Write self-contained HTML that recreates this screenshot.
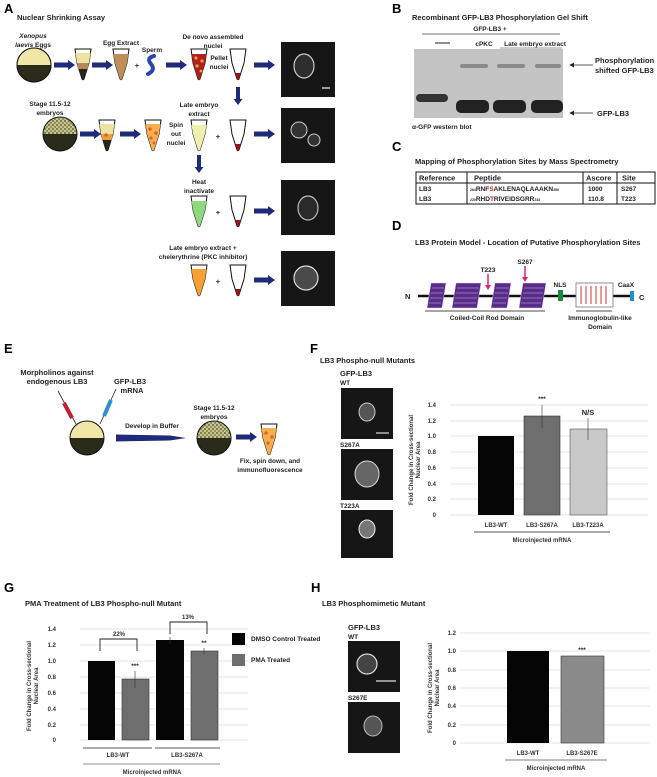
<!DOCTYPE html>
<html><head><meta charset="utf-8"><style>
html,body{margin:0;padding:0;background:#fff;}
svg{display:block;font-family:"Liberation Sans",Arial,sans-serif;}
.l{font-size:13px;font-weight:bold;}
.t{font-size:7.5px;font-weight:bold;fill:#222;}
.s{font-size:6.5px;font-weight:bold;fill:#222;}
.ax{font-size:6px;font-weight:bold;fill:#333;}
.g{stroke:#ddd;stroke-width:0.7;}
</style></head><body>
<svg width="657" height="777" viewBox="0 0 657 777">
<defs>
<marker id="ah" markerWidth="6" markerHeight="6" refX="5" refY="3" orient="auto"><path d="M0,0 L6,3 L0,6 z" fill="#222"/></marker>
<g id="tube"><path d="M-8,0 L-6,14 L-1,30 Q0,31.5 1,30 L6,14 L8,0 Z" fill="#fff" stroke="#111" stroke-width="1"/></g>
<g id="arr"><path d="M0,-2.5 L14,-2.5 L14,-5 L21,0 L14,5 L14,2.5 L0,2.5 Z" fill="#1f2a78"/></g>
<g id="darr"><path d="M-2,0 L-2,12 L-4.5,12 L0,18 L4.5,12 L2,12 L2,0 Z" fill="#1f2a78"/></g>
<g id="pel"><use href="#tube"/><path d="M-2.5,24 L-1,30 Q0,31.5 1,30 L2.5,24 Z" fill="#a01020"/></g>
<pattern id="spk" width="4" height="4" patternUnits="userSpaceOnUse"><rect width="4" height="4" fill="#c8c48a"/><circle cx="1" cy="1" r="0.9" fill="#4a4a30"/><circle cx="3" cy="3" r="0.9" fill="#6a6840"/></pattern>
</defs>

<!-- Panel A -->
<text x="4" y="13" class="l">A</text>
<text x="17" y="20" class="t">Nuclear Shrinking Assay</text>
<text x="33" y="38" class="s" text-anchor="middle" font-style="italic">Xenopus</text>
<text x="33" y="47" class="s" text-anchor="middle"><tspan font-style="italic">laevis</tspan> Eggs</text>
<circle cx="34" cy="65" r="17" fill="#2b2b1c" stroke="#111"/>
<path d="M17,65 A17,17 0 0 1 51,65 Z" fill="#efe6a8"/>
<circle cx="34" cy="65" r="17" fill="none" stroke="#111"/>
<use href="#arr" x="54" y="65"/><use href="#arr" x="92" y="65"/><use href="#arr" x="166" y="65"/><use href="#arr" x="254" y="65"/>
<g transform="translate(83,49)"><use href="#tube"/><path d="M-7.5,4 L-6,14 L6,14 L7.5,4Z" fill="#ece3a0"/><path d="M-6,14 L-4.5,20 L4.5,20 L6,14Z" fill="#b88a58"/><path d="M-4.5,20 L-1,30 Q0,31.5 1,30 L4.5,20Z" fill="#2a2418"/></g>
<text x="121" y="45" class="s" text-anchor="middle">Egg Extract</text>
<g transform="translate(121,49)"><use href="#tube"/><path d="M-7.5,5 L-6,14 L-1,30 Q0,31.5 1,30 L6,14 L7.5,5Z" fill="#bf8c5c"/></g>
<text x="137" y="68" class="t" text-anchor="middle">+</text>
<text x="152" y="52" class="s" text-anchor="middle">Sperm</text>
<path d="M154,56 Q146,58 151,64 Q156,70 148,74" fill="none" stroke="#2b45b0" stroke-width="4" stroke-linecap="round"/>
<text x="213" y="39" class="s" text-anchor="middle">De novo assembled</text>
<text x="213" y="48" class="s" text-anchor="middle">nuclei</text>
<g transform="translate(199,49)"><use href="#tube"/><path d="M-7.5,5 L-6,14 L-1,30 Q0,31.5 1,30 L6,14 L7.5,5Z" fill="#b02020"/><circle cx="-3" cy="9" r="1.6" fill="#e8a040"/><circle cx="3" cy="12" r="1.6" fill="#e8a040"/><circle cx="-2" cy="17" r="1.6" fill="#e8a040"/><circle cx="2" cy="22" r="1.4" fill="#e8a040"/></g>
<text x="219" y="60" class="s" text-anchor="middle">Pellet</text>
<text x="219" y="69" class="s" text-anchor="middle">nuclei</text>
<g transform="translate(238,49)"><use href="#pel"/></g>
<use href="#darr" x="238" y="87"/>

<text x="50" y="106" class="s" text-anchor="middle">Stage 11.5-12</text>
<text x="50" y="115" class="s" text-anchor="middle">embryos</text>
<circle cx="60" cy="134" r="17" fill="#2b2b1c"/>
<path d="M43,134 A17,17 0 0 1 77,134 Z" fill="url(#spk)"/>
<circle cx="60" cy="134" r="17" fill="none" stroke="#111"/>
<use href="#arr" x="80" y="134"/><use href="#arr" x="120" y="134"/><use href="#arr" x="254" y="134"/>
<g transform="translate(107,120)"><use href="#tube"/><path d="M-7.5,4 L-6,14 L6,14 L7.5,4Z" fill="#ece3a0"/><path d="M-6,14 L-4.5,20 L4.5,20 L6,14Z" fill="#e8a040"/><circle cx="-1" cy="15" r="1.8" fill="#e86020"/><path d="M-4.5,20 L-1,30 Q0,31.5 1,30 L4.5,20Z" fill="#2a2418"/></g>
<g transform="translate(153,120)"><use href="#tube"/><path d="M-7.5,4 L-6,14 L-1,30 Q0,31.5 1,30 L6,14 L7.5,4Z" fill="#f4b050"/><circle cx="-3" cy="9" r="1.8" fill="#e86020"/><circle cx="3" cy="13" r="1.8" fill="#e86020"/><circle cx="-2" cy="18" r="1.6" fill="#e86020"/><circle cx="1" cy="23" r="1.4" fill="#e86020"/></g>
<text x="176" y="127" class="s" text-anchor="middle">Spin</text>
<text x="176" y="136" class="s" text-anchor="middle">out</text>
<text x="176" y="145" class="s" text-anchor="middle">nuclei</text>
<text x="199" y="107" class="s" text-anchor="middle">Late embryo</text>
<text x="199" y="116" class="s" text-anchor="middle">extract</text>
<g transform="translate(199,120)"><use href="#tube"/><path d="M-7.5,5 L-6,14 L-1,30 Q0,31.5 1,30 L6,14 L7.5,5Z" fill="#eef0b0"/></g>
<text x="218" y="139" class="t" text-anchor="middle">+</text>
<g transform="translate(238,120)"><use href="#pel"/></g>
<use href="#darr" x="199" y="155"/>

<text x="199" y="184" class="s" text-anchor="middle">Heat</text>
<text x="199" y="193" class="s" text-anchor="middle">inactivate</text>
<g transform="translate(199,196)"><use href="#tube"/><path d="M-7.5,5 L-6,14 L-1,30 Q0,31.5 1,30 L6,14 L7.5,5Z" fill="#8ed880"/></g>
<text x="218" y="215" class="t" text-anchor="middle">+</text>
<g transform="translate(238,196)"><use href="#pel"/></g>
<use href="#arr" x="254" y="211"/>

<text x="203" y="250" class="s" text-anchor="middle">Late embryo extract +</text>
<text x="203" y="259" class="s" text-anchor="middle">chelerythrine (PKC inhibitor)</text>
<g transform="translate(199,265)"><use href="#tube"/><path d="M-7.5,4 L-6,14 L-1,30 Q0,31.5 1,30 L6,14 L7.5,4Z" fill="#f5a030"/></g>
<text x="218" y="284" class="t" text-anchor="middle">+</text>
<g transform="translate(238,265)"><use href="#pel"/></g>
<use href="#arr" x="254" y="280"/>

<rect x="281" y="42" width="54" height="55" fill="#161616"/>
<ellipse cx="304" cy="66" rx="10" ry="12" fill="#2e2e2e" stroke="#ccc" stroke-width="1.2"/>
<line x1="322" y1="88" x2="330" y2="88" stroke="#ccc" stroke-width="1.5"/>
<rect x="281" y="108" width="54" height="55" fill="#161616"/>
<ellipse cx="299" cy="130" rx="8" ry="8" fill="#333" stroke="#ccc"/>
<ellipse cx="314" cy="140" rx="6" ry="6" fill="#333" stroke="#ccc"/>
<rect x="281" y="180" width="54" height="55" fill="#161616"/>
<ellipse cx="308" cy="208" rx="10" ry="12" fill="#2a2a2a" stroke="#bbb" stroke-width="1.2"/>
<rect x="281" y="251" width="54" height="55" fill="#161616"/>
<ellipse cx="306" cy="278" rx="12" ry="12" fill="#4a4a4a" stroke="#ddd" stroke-width="1.2"/>

<!-- Panel B -->
<text x="392" y="13" class="l">B</text>
<text x="412" y="20" class="t">Recombinant GFP-LB3 Phosphorylation Gel Shift</text>
<text x="490" y="31" class="s" text-anchor="middle">GFP-LB3 +</text>
<line x1="422" y1="34" x2="560" y2="34" stroke="#444" stroke-width="0.7"/>
<line x1="435" y1="43" x2="450" y2="43" stroke="#222" stroke-width="1"/>
<text x="484" y="46" class="s" text-anchor="middle">cPKC</text>
<text x="535" y="46" class="s" text-anchor="middle">Late embryo extract</text>
<line x1="500" y1="48" x2="562" y2="48" stroke="#777" stroke-width="0.8"/>
<rect x="414" y="49" width="149" height="69" fill="#c4c4c4"/>
<rect x="416" y="94" width="32" height="8" rx="4" fill="#333"/>
<rect x="456" y="100" width="33" height="13" rx="5" fill="#222"/>
<rect x="493" y="100" width="33" height="13" rx="5" fill="#222"/>
<rect x="531" y="100" width="32" height="13" rx="5" fill="#222"/>
<rect x="460" y="64" width="28" height="4" rx="2" fill="#8a8a8a"/>
<rect x="497" y="64" width="28" height="4" rx="2" fill="#8a8a8a"/>
<rect x="535" y="64" width="26" height="4" rx="2" fill="#8a8a8a"/>
<line x1="593" y1="65" x2="570" y2="65" stroke="#222" stroke-width="0.8" marker-end="url(#ah)"/>
<line x1="593" y1="113" x2="570" y2="113" stroke="#222" stroke-width="0.8" marker-end="url(#ah)"/>
<text x="595" y="63" class="t">Phosphorylation</text>
<text x="595" y="73" class="t">shifted GFP-LB3</text>
<text x="597" y="116" class="t">GFP-LB3</text>
<text x="412" y="129" class="s">α-GFP western blot</text>

<!-- Panel C -->
<text x="392" y="151" class="l">C</text>
<text x="415" y="164" class="t">Mapping of Phosphorylation Sites by Mass Spectrometry</text>
<rect x="416" y="172" width="239" height="32" fill="none" stroke="#111" stroke-width="1"/>
<line x1="416" y1="183" x2="655" y2="183" stroke="#111"/>
<line x1="467" y1="172" x2="467" y2="204" stroke="#111"/>
<line x1="583" y1="172" x2="583" y2="204" stroke="#111"/>
<line x1="617" y1="172" x2="617" y2="204" stroke="#111"/>
<text x="419" y="180.5" class="t">Reference</text><text x="474" y="180.5" class="t">Peptide</text><text x="586" y="180.5" class="t">Ascore</text><text x="622" y="180.5" class="t">Site</text>
<text x="419" y="191" class="s">LB3</text><text x="419" y="201" class="s">LB3</text>
<text x="470" y="191" class="s"><tspan font-size="3.5">264</tspan>RNF<tspan fill="#d02020">S</tspan>AKLENAQLAAAKN<tspan font-size="3.5">280</tspan></text>
<text x="470" y="201" class="s"><tspan font-size="3.5">220</tspan>RHD<tspan fill="#d02020">T</tspan>RIVEIDSGRR<tspan font-size="3.5">233</tspan></text>
<text x="588" y="191" class="s">1000</text><text x="588" y="201" class="s">110.8</text>
<text x="621" y="191" class="s">S267</text><text x="621" y="201" class="s">T223</text>

<!-- Panel D -->
<text x="392" y="230" class="l">D</text>
<text x="415" y="245" class="t">LB3 Protein Model - Location of Putative Phosphorylation Sites</text>
<text x="405" y="299" class="t" font-size="9">N</text>
<line x1="418" y1="296" x2="632" y2="296" stroke="#111" stroke-width="2.5"/>
<g fill="#5a2c8a" stroke="#d8c8f0" stroke-width="0.5">
<path d="M431,283 L446,283 L442,308 L427,308 Z"/>
<path d="M456,283 L481,283 L477,308 L452,308 Z"/>
<path d="M495,283 L511,283 L507,308 L491,308 Z"/>
<path d="M523,283 L546,283 L542,308 L519,308 Z"/>
</g>
<g stroke="#c8b8e8" stroke-width="0.5">
<line x1="432" y1="288" x2="444" y2="288"/><line x1="431" y1="293" x2="443" y2="293"/><line x1="430" y1="298" x2="442" y2="298"/><line x1="429" y1="303" x2="441" y2="303"/>
<line x1="457" y1="288" x2="479" y2="288"/><line x1="456" y1="293" x2="478" y2="293"/><line x1="455" y1="298" x2="477" y2="298"/><line x1="454" y1="303" x2="476" y2="303"/>
<line x1="496" y1="288" x2="509" y2="288"/><line x1="495" y1="293" x2="508" y2="293"/><line x1="494" y1="298" x2="507" y2="298"/><line x1="493" y1="303" x2="506" y2="303"/>
<line x1="524" y1="288" x2="544" y2="288"/><line x1="523" y1="293" x2="543" y2="293"/><line x1="522" y1="298" x2="542" y2="298"/><line x1="521" y1="303" x2="541" y2="303"/>
</g>
<text x="488" y="272" class="s" text-anchor="middle">T223</text>
<line x1="488" y1="274" x2="488" y2="288" stroke="#e0207a" stroke-width="1.5"/><path d="M485,285 L488,290 L491,285Z" fill="#e0207a"/>
<text x="525" y="264" class="s" text-anchor="middle">S267</text>
<line x1="525" y1="266" x2="525" y2="279" stroke="#e0207a" stroke-width="1.5"/><path d="M522,277 L525,282 L528,277Z" fill="#e0207a"/>
<text x="560" y="287" class="s" text-anchor="middle">NLS</text>
<rect x="558" y="290" width="5" height="11" fill="#1a8a40"/>
<rect x="576" y="283" width="37" height="24" fill="#fff" stroke="#777" stroke-width="0.8"/>
<g stroke="#d02020" stroke-width="0.9">
<line x1="581" y1="286" x2="581" y2="304"/><line x1="586" y1="286" x2="586" y2="304"/><line x1="591" y1="286" x2="591" y2="304"/><line x1="596" y1="286" x2="596" y2="304"/><line x1="601" y1="286" x2="601" y2="304"/><line x1="606" y1="286" x2="606" y2="304"/>
</g>
<text x="626" y="287" class="s" text-anchor="middle">CaaX</text>
<rect x="630" y="291" width="4" height="10" fill="#2090d0"/>
<text x="639" y="300" class="t" font-size="9">C</text>
<line x1="425" y1="311" x2="545" y2="311" stroke="#111" stroke-width="0.8"/>
<text x="487" y="320" class="s" text-anchor="middle">Coiled-Coil Rod Domain</text>
<line x1="576" y1="311" x2="612" y2="311" stroke="#111" stroke-width="0.8"/>
<text x="600" y="320" class="s" text-anchor="middle">Immunoglobulin-like</text>
<text x="600" y="329" class="s" text-anchor="middle">Domain</text>

<!-- Panel E -->
<text x="4" y="353" class="l">E</text>
<text x="57" y="375" class="t" text-anchor="middle">Morpholinos against</text>
<text x="57" y="384" class="t" text-anchor="middle">endogenous LB3</text>
<text x="130" y="384" class="t" text-anchor="middle">GFP-LB3</text>
<text x="132" y="393" class="t" text-anchor="middle">mRNA</text>
<line x1="58" y1="391" x2="76" y2="424" stroke="#222" stroke-width="0.8"/>
<line x1="64" y1="403" x2="72" y2="418" stroke="#c02030" stroke-width="4"/>
<line x1="116" y1="389" x2="100" y2="424" stroke="#222" stroke-width="0.8"/>
<line x1="111" y1="400" x2="104" y2="416" stroke="#2a90d0" stroke-width="4"/>
<circle cx="87" cy="438" r="17" fill="#2b2b1c"/>
<path d="M70,438 A17,17 0 0 1 104,438 Z" fill="#efe6a8"/>
<circle cx="87" cy="438" r="17" fill="none" stroke="#111"/>
<text x="152" y="428" class="s" text-anchor="middle">Develop in Buffer</text>
<path d="M116,434.5 L170,435.5 L186,438 L170,440.5 L116,441.5 Z" fill="#1f2a78"/>
<text x="214" y="410" class="s" text-anchor="middle">Stage 11.5-12</text>
<text x="214" y="419" class="s" text-anchor="middle">embryos</text>
<circle cx="214" cy="438" r="17" fill="#2b2b1c"/>
<path d="M197,438 A17,17 0 0 1 231,438 Z" fill="url(#spk)"/>
<circle cx="214" cy="438" r="17" fill="none" stroke="#111"/>
<use href="#arr" x="236" y="437"/>
<g transform="translate(269,424)"><use href="#tube"/><path d="M-7.5,4 L-6,14 L-1,30 Q0,31.5 1,30 L6,14 L7.5,4Z" fill="#f4b050"/><circle cx="-3" cy="9" r="1.8" fill="#e86020"/><circle cx="3" cy="13" r="1.8" fill="#e86020"/><circle cx="-1" cy="19" r="1.6" fill="#e86020"/></g>
<text x="270" y="463" class="s" text-anchor="middle">Fix, spin down, and</text>
<text x="270" y="472" class="s" text-anchor="middle">immunofluorescence</text>

<!-- Panel F -->
<text x="310" y="353" class="l">F</text>
<text x="320" y="363" class="t">LB3 Phospho-null Mutants</text>
<text x="340" y="376" class="t" font-weight="normal">GFP-LB3</text>
<text x="340" y="385" class="s">WT</text>
<rect x="341" y="388" width="52" height="51" fill="#161616"/>
<ellipse cx="367" cy="412" rx="8" ry="9" fill="#555" stroke="#ccc"/>
<line x1="376" y1="433" x2="389" y2="433" stroke="#ddd" stroke-width="1.2"/>
<text x="340" y="447" class="s">S267A</text>
<rect x="341" y="449" width="52" height="51" fill="#161616"/>
<ellipse cx="367" cy="474" rx="12" ry="13" fill="#666" stroke="#ddd"/>
<text x="340" y="508" class="s">T223A</text>
<rect x="341" y="510" width="52" height="48" fill="#161616"/>
<ellipse cx="367" cy="529" rx="8" ry="9" fill="#777" stroke="#eee"/>
<g class="g"><line x1="450" y1="405" x2="648" y2="405"/><line x1="450" y1="421" x2="648" y2="421"/><line x1="450" y1="436" x2="648" y2="436"/><line x1="450" y1="452" x2="648" y2="452"/><line x1="450" y1="468" x2="648" y2="468"/><line x1="450" y1="484" x2="648" y2="484"/><line x1="450" y1="499" x2="648" y2="499"/><line x1="450" y1="515" x2="648" y2="515"/></g>
<g class="ax" text-anchor="end"><text x="436" y="407">1.4</text><text x="436" y="423">1.2</text><text x="436" y="438">1.0</text><text x="436" y="454">0.8</text><text x="436" y="470">0.6</text><text x="436" y="486">0.4</text><text x="436" y="501">0.2</text><text x="436" y="517">0</text></g>
<text transform="translate(413,460) rotate(-90)" class="ax" text-anchor="middle">Fold Change in Cross-sectional</text>
<text transform="translate(420,460) rotate(-90)" class="ax" text-anchor="middle">Nuclear Area</text>
<rect x="478" y="436" width="36" height="79" fill="#050505"/>
<rect x="524" y="416" width="36" height="99" fill="#6e6e6e" stroke="#333" stroke-width="0.6"/>
<rect x="570" y="429" width="37" height="86" fill="#c8c8c8" stroke="#555" stroke-width="0.6"/>
<line x1="542" y1="405" x2="542" y2="428" stroke="#333" stroke-width="0.6"/>
<line x1="588" y1="418" x2="588" y2="440" stroke="#333" stroke-width="0.6"/>
<text x="542" y="401" class="s" text-anchor="middle">***</text>
<text x="588" y="415" class="t" font-size="9" text-anchor="middle">N/S</text>
<g class="ax" text-anchor="middle"><text x="496" y="527">LB3-WT</text><text x="542" y="527">LB3-S267A</text><text x="588" y="527">LB3-T223A</text></g>
<line x1="474" y1="532" x2="610" y2="532" stroke="#222" stroke-width="0.8"/>
<text x="542" y="542" class="ax" text-anchor="middle">Microinjected mRNA</text>

<!-- Panel G -->
<text x="4" y="592" class="l">G</text>
<text x="25" y="606" class="t">PMA Treatment of LB3 Phospho-null Mutant</text>
<g class="g"><line x1="80" y1="629" x2="248" y2="629"/><line x1="80" y1="645" x2="248" y2="645"/><line x1="80" y1="661" x2="248" y2="661"/><line x1="80" y1="677" x2="248" y2="677"/><line x1="80" y1="693" x2="248" y2="693"/><line x1="80" y1="709" x2="248" y2="709"/><line x1="80" y1="725" x2="248" y2="725"/><line x1="80" y1="740" x2="248" y2="740"/></g>
<g class="ax" text-anchor="end"><text x="56" y="631">1.4</text><text x="56" y="647">1.2</text><text x="56" y="663">1.0</text><text x="56" y="679">0.8</text><text x="56" y="695">0.6</text><text x="56" y="711">0.4</text><text x="56" y="727">0.2</text><text x="56" y="742">0</text></g>
<text transform="translate(31,686) rotate(-90)" class="ax" text-anchor="middle">Fold Change in Cross-sectional</text>
<text transform="translate(38,686) rotate(-90)" class="ax" text-anchor="middle">Nuclear Area</text>
<rect x="88" y="661" width="27" height="79" fill="#050505"/>
<rect x="122" y="679" width="27" height="61" fill="#6e6e6e" stroke="#333" stroke-width="0.6"/>
<rect x="156" y="640" width="28" height="100" fill="#050505"/>
<rect x="191" y="651" width="27" height="89" fill="#6e6e6e" stroke="#333" stroke-width="0.6"/>
<line x1="135" y1="671" x2="135" y2="688" stroke="#333" stroke-width="0.6"/>
<line x1="170" y1="637" x2="170" y2="644" stroke="#333" stroke-width="0.6"/>
<line x1="204" y1="648" x2="204" y2="654" stroke="#333" stroke-width="0.6"/>
<text x="135" y="668" class="s" text-anchor="middle">***</text>
<text x="204" y="645" class="s" text-anchor="middle">**</text>
<path d="M100,651 L100,639 L137,639 L137,651" fill="none" stroke="#222" stroke-width="0.9"/>
<text x="119" y="636" class="ax" text-anchor="middle">22%</text>
<path d="M170,634 L170,622 L207,622 L207,634" fill="none" stroke="#222" stroke-width="0.9"/>
<text x="188" y="619" class="ax" text-anchor="middle">13%</text>
<rect x="232" y="633" width="13" height="12" fill="#050505"/>
<text x="251" y="641" class="s">DMSO Control Treated</text>
<rect x="232" y="654" width="13" height="12" fill="#6e6e6e"/>
<text x="251" y="662" class="s">PMA Treated</text>
<g class="ax" text-anchor="middle"><text x="118" y="757">LB3-WT</text><text x="187" y="757">LB3-S267A</text></g>
<line x1="83" y1="748" x2="152" y2="748" stroke="#222" stroke-width="0.8"/>
<line x1="155" y1="748" x2="220" y2="748" stroke="#222" stroke-width="0.8"/>
<line x1="83" y1="764" x2="220" y2="764" stroke="#666" stroke-width="0.8"/>
<text x="152" y="774" class="ax" text-anchor="middle">Microinjected mRNA</text>

<!-- Panel H -->
<text x="311" y="592" class="l">H</text>
<text x="322" y="606" class="t">LB3 Phosphomimetic Mutant</text>
<text x="348" y="630" class="t" font-weight="normal">GFP-LB3</text>
<text x="348" y="639" class="s">WT</text>
<rect x="348" y="641" width="52" height="51" fill="#161616"/>
<ellipse cx="367" cy="664" rx="10" ry="10" fill="#444" stroke="#ddd" stroke-width="1.2"/>
<line x1="376" y1="681" x2="396" y2="681" stroke="#ddd" stroke-width="1.2"/>
<text x="348" y="700" class="s">S267E</text>
<rect x="348" y="702" width="52" height="51" fill="#161616"/>
<ellipse cx="373" cy="726" rx="9" ry="10" fill="#555" stroke="#bbb"/>
<g class="g"><line x1="460" y1="633" x2="650" y2="633"/><line x1="460" y1="651" x2="650" y2="651"/><line x1="460" y1="670" x2="650" y2="670"/><line x1="460" y1="688" x2="650" y2="688"/><line x1="460" y1="706" x2="650" y2="706"/><line x1="460" y1="725" x2="650" y2="725"/><line x1="460" y1="743" x2="650" y2="743"/></g>
<g class="ax" text-anchor="end"><text x="456" y="635">1.2</text><text x="456" y="653">1.0</text><text x="456" y="672">0.8</text><text x="456" y="690">0.6</text><text x="456" y="708">0.4</text><text x="456" y="727">0.2</text><text x="456" y="745">0</text></g>
<text transform="translate(432,688) rotate(-90)" class="ax" text-anchor="middle">Fold Change in Cross-sectional</text>
<text transform="translate(439,688) rotate(-90)" class="ax" text-anchor="middle">Nuclear Area</text>
<rect x="507" y="651" width="42" height="92" fill="#050505"/>
<rect x="561" y="656" width="43" height="87" fill="#8a8a8a" stroke="#333" stroke-width="0.6"/>
<text x="582" y="652" class="s" text-anchor="middle">***</text>
<g class="ax" text-anchor="middle"><text x="528" y="755">LB3-WT</text><text x="582" y="755">LB3-S267E</text></g>
<line x1="505" y1="760" x2="607" y2="760" stroke="#555" stroke-width="0.8"/>
<text x="556" y="770" class="ax" text-anchor="middle">Microinjected mRNA</text>
</svg>
</body></html>
